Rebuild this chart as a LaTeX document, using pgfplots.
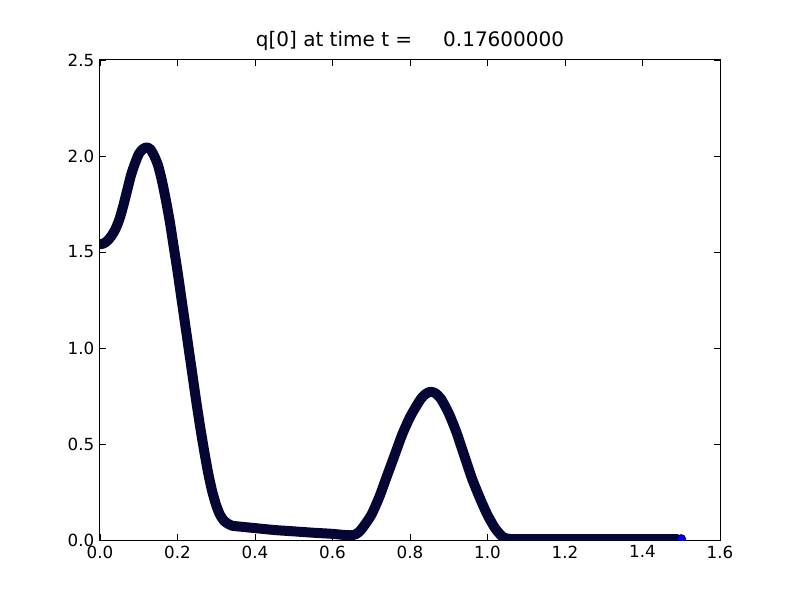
\documentclass[border=0pt]{standalone}
\usepackage{fontspec}
\setmainfont{DejaVu Sans}
\usepackage{pgfplots}
\pgfplotsset{compat=1.18}
\definecolor{band}{RGB}{6,6,52}
\begin{document}
\begin{tikzpicture}
\useasboundingbox (-100pt,-60pt) rectangle (700pt,540pt);
\begin{axis}[
  at={(0pt,0pt)}, anchor=south west,
  scale only axis, width=620pt, height=480pt,
  xmin=0, xmax=1.6, ymin=0, ymax=2.5,
  clip marker paths=true,
  xtick={0,0.2,...,1.6}, ytick={0,0.5,...,2.5},
  tick align=inside, major tick length=5.6pt,
  every tick/.style={black, line width=0.7pt},
  axis line style={line width=1pt},
  /pgf/number format/assume math mode=true,
  xticklabel={\pgfmathprintnumber[fixed,fixed zerofill,precision=1]{\tick}},
  yticklabel={\pgfmathprintnumber[fixed,fixed zerofill,precision=1]{\tick}},
  tick label style={font=\fontsize{16.7pt}{20pt}\selectfont},
  xticklabel style={anchor=north, inner sep=0pt, yshift=-5.6pt},
  yticklabel style={anchor=east, inner sep=0pt, xshift=-5.6pt},
  title={q[0] at time t =\hspace{31pt}0.17600000},
  title style={font=\fontsize{20pt}{24pt}\selectfont, anchor=base, at={(0.5,1)}, yshift=7pt, inner sep=0pt},
]
\addplot[band, line width=10pt, line join=round, line cap=round, smooth, tension=0.4] coordinates {
(0.00,1.54) (0.01,1.545) (0.02,1.56) (0.03,1.585) (0.04,1.62) (0.05,1.67)
(0.06,1.74) (0.07,1.82) (0.08,1.90) (0.09,1.96) (0.10,2.01) (0.11,2.035)
(0.12,2.045) (0.13,2.035) (0.14,2.00) (0.15,1.95) (0.16,1.87) (0.17,1.77)
(0.18,1.66) (0.19,1.53) (0.20,1.40) (0.21,1.26) (0.22,1.12) (0.23,0.98)
(0.24,0.84) (0.25,0.70) (0.26,0.57) (0.27,0.45) (0.28,0.34) (0.29,0.25)
(0.30,0.18) (0.31,0.13) (0.32,0.10) (0.33,0.085) (0.34,0.075) (0.35,0.072)
(0.40,0.062) (0.45,0.052) (0.50,0.045) (0.55,0.038) (0.60,0.032) (0.62,0.028)
(0.64,0.025) (0.65,0.025) (0.66,0.03) (0.67,0.045) (0.68,0.07) (0.70,0.13)
(0.72,0.22) (0.74,0.33) (0.76,0.44) (0.78,0.55) (0.80,0.64) (0.82,0.71)
(0.83,0.74) (0.84,0.76) (0.852,0.772) (0.865,0.765) (0.88,0.735) (0.90,0.66) (0.92,0.56)
(0.94,0.44) (0.96,0.32) (0.98,0.22) (1.00,0.13) (1.02,0.06) (1.04,0.015)
(1.06,0.005) (1.10,0.005) (1.20,0.005) (1.30,0.005) (1.40,0.005) (1.49,0.005)
};
\addplot[only marks, mark=*, mark size=4.5pt, mark options={fill=blue, draw=black, line width=0.7pt}] coordinates {(1.5,0.005)};
\end{axis}
\end{tikzpicture}
\end{document}
